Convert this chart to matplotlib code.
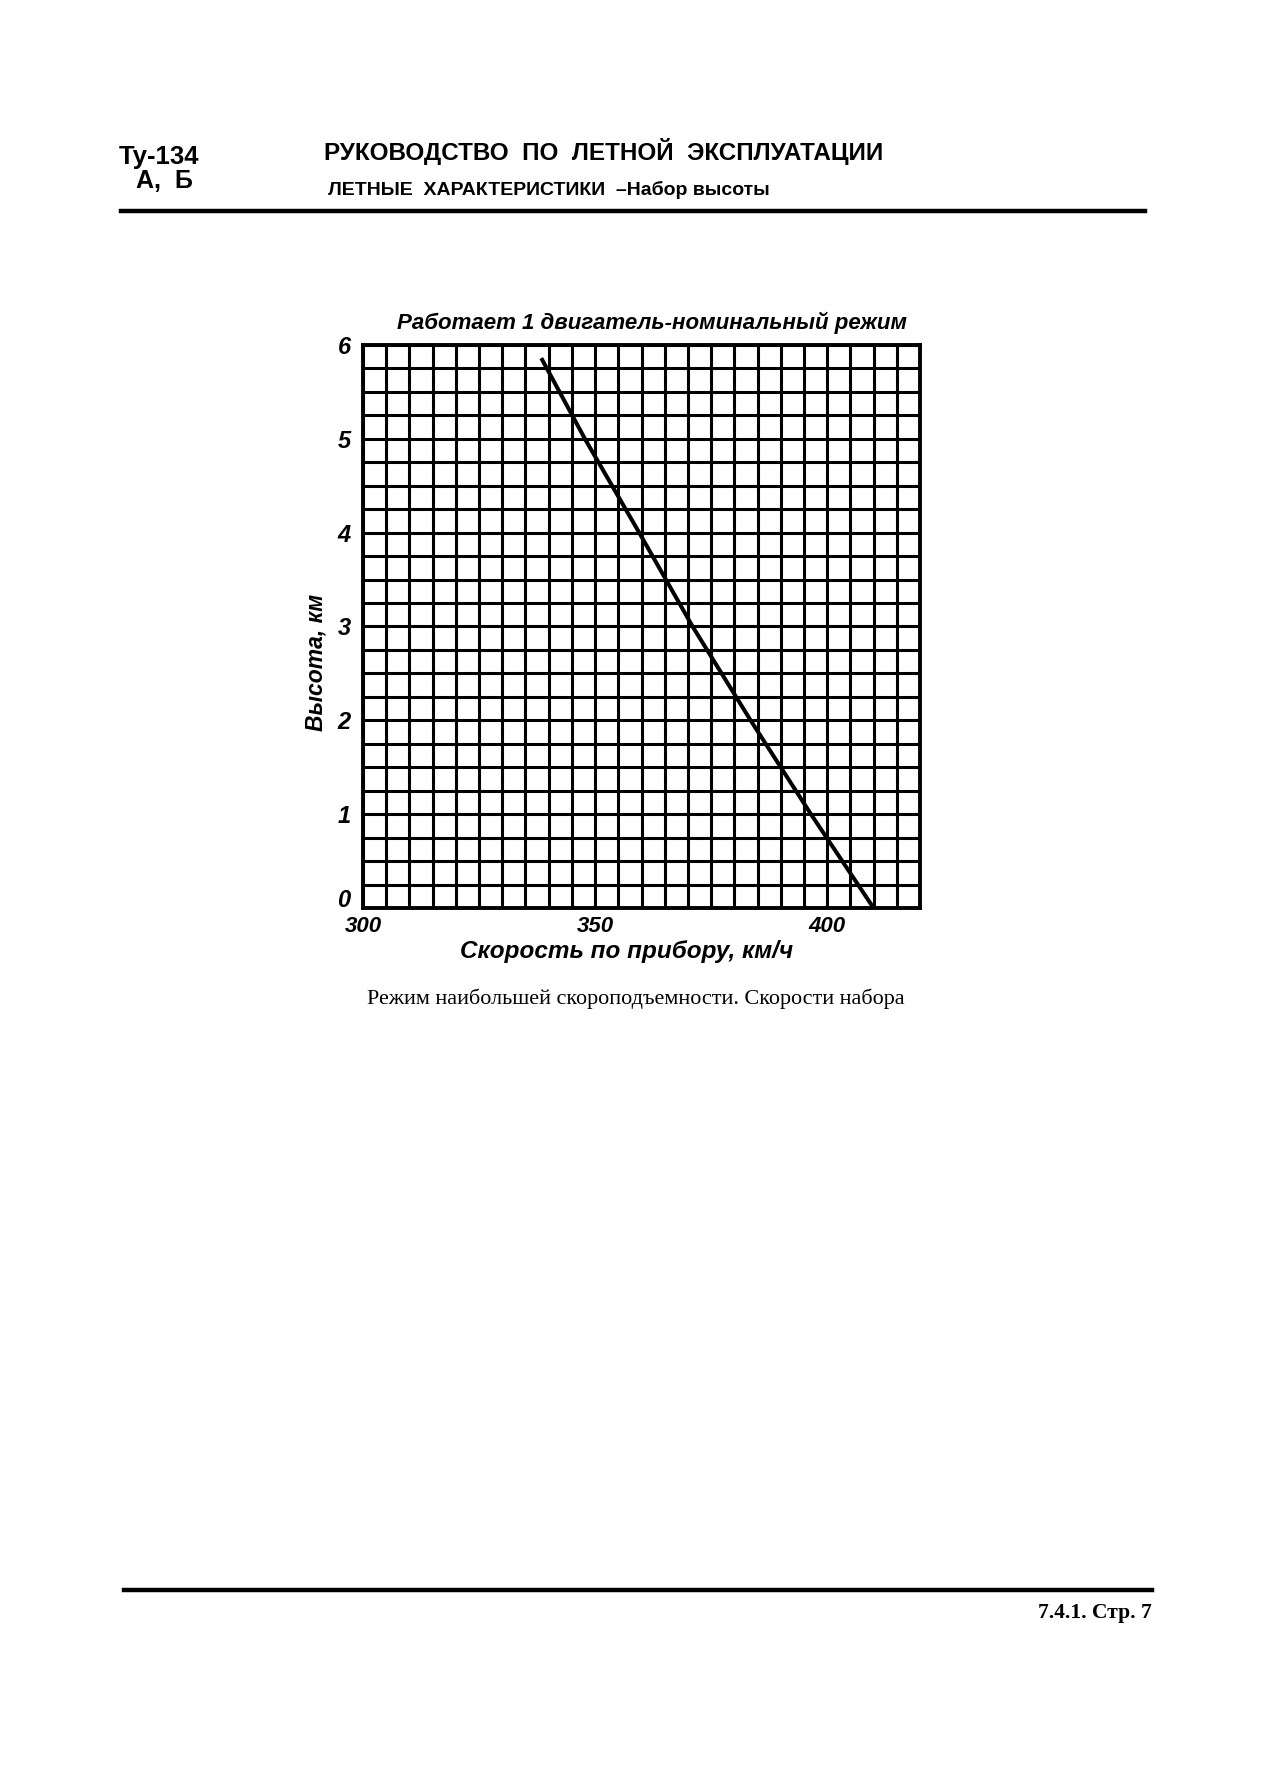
import numpy as np
import matplotlib.pyplot as plt
from matplotlib.lines import Line2D
from matplotlib.transforms import ScaledTranslation

# climb speed (IAS) vs altitude, one engine, nominal rating
alt_km = [0, 1, 2, 3, 4, 5, 5.86]
speed_kmh = [410, 396.5, 383.5, 371, 359.5, 347.8, 338.4]

x_ticks = [300, 350, 400]
y_ticks = [0, 1, 2, 3, 4, 5, 6]

hand = dict(family=['Liberation Sans', 'DejaVu Sans'], style='italic', weight='bold')
sans = ['Liberation Sans', 'DejaVu Sans']
serif = ['Liberation Serif', 'DejaVu Serif']

fig = plt.figure(figsize=(12.73, 17.71), dpi=100)
ax = fig.add_axes([0.2852, 0.4873, 0.4375, 0.3179])

ax.plot(speed_kmh, alt_km, color='black', lw=2.9, solid_capstyle='butt', zorder=3)

ax.set_xlim(300, 420)
ax.set_ylim(0, 6)
ax.set_xticks(x_ticks)
ax.set_xticks(np.arange(300, 421, 5), minor=True)
ax.set_yticks(y_ticks)
ax.set_yticks(np.arange(0, 6.01, 0.25), minor=True)
ax.set_xticklabels([str(v) for v in x_ticks], fontsize=16, **hand)
ax.set_yticklabels([str(v) for v in y_ticks], fontsize=17, **hand)
ax.tick_params(which='both', length=0)
ax.tick_params(axis='x', pad=6)
ax.tick_params(axis='y', pad=9)
ax.grid(which='both', color='black', lw=2.2)
for s in ax.spines.values():
    s.set_linewidth(2.8)

# the "0" sits a little above the bottom line
lab0 = ax.get_yticklabels()[0]
lab0.set_transform(lab0.get_transform() + ScaledTranslation(0, 10/100, fig.dpi_scale_trans))

ax.set_xlabel('Скорость по прибору, км/ч', fontsize=17.5, va='center', **hand)
ax.xaxis.set_label_coords(0.474, -0.0764)
ax.set_ylabel('Высота, км', fontsize=16.5, va='center', **hand)
ax.yaxis.set_label_coords(-0.0844, 0.437)

fig.text(0.5122, 0.8176, 'Работает 1 двигатель-номинальный режим', ha='center', va='center',
         fontsize=16, **hand)

# page header
fig.text(0.0935, 0.9113, 'Ту-134', ha='left', va='center', fontsize=18.5, weight='bold', family=sans)
fig.text(0.1068, 0.8978, 'А,  Б', ha='left', va='center', fontsize=18, weight='bold', family=sans)
fig.text(0.2545, 0.9142, 'РУКОВОДСТВО  ПО  ЛЕТНОЙ  ЭКСПЛУАТАЦИИ', ha='left', va='center',
         fontsize=17.5, weight='bold', family=sans)
fig.text(0.2577, 0.8927, 'ЛЕТНЫЕ  ХАРАКТЕРИСТИКИ  –Набор высоты', ha='left', va='center',
         fontsize=14, weight='bold', family=sans)
fig.add_artist(Line2D([0.0950, 0.8995], [0.8809, 0.8809], color='black', lw=3.2))

fig.text(0.4996, 0.4359, 'Режим наибольшей скороподъемности. Скорости набора', ha='center', va='center',
         fontsize=15.9, family=serif)

# footer
fig.add_artist(Line2D([0.0974, 0.905], [0.1022, 0.1022], color='black', lw=3.2))
fig.text(0.905, 0.0892, '7.4.1. Стр. 7', ha='right', va='center', fontsize=15.5, weight='bold', family=serif)

plt.savefig('out.png', dpi=100, facecolor='white')
